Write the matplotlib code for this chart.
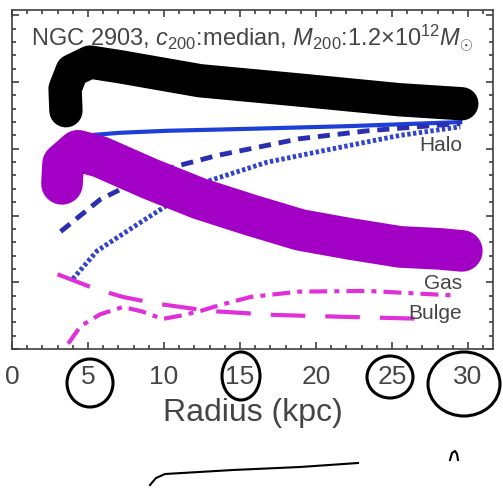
import matplotlib
matplotlib.use("Agg")
import matplotlib.pyplot as plt
from matplotlib.patches import Ellipse
from matplotlib.lines import Line2D
from matplotlib.ticker import MultipleLocator

plt.rcParams["font.family"] = ["Liberation Sans", "DejaVu Sans"]
plt.rcParams["mathtext.fontset"] = "custom"
plt.rcParams["mathtext.rm"] = "Liberation Sans"
plt.rcParams["mathtext.it"] = "Liberation Sans:italic"

TEXT = "#454545"

# rotation curve components (radius in kpc, velocity in km/s)
halo_r = [3.0, 3.8, 4.9, 7.1, 10.2, 15.7, 22.2, 29.5]
halo_v = [150, 155, 160, 162, 163.5, 165, 167, 170]

disk_r = [3.2, 5.8, 9.5, 13.5, 18.9, 23.4, 29.5]
disk_v = [88, 112, 133, 145, 157.5, 163.5, 169]

stars_r = [4.0, 5.6, 8.0, 9.7, 12.4, 16.8, 21.1, 25.5, 29.5]
stars_v = [52.5, 73.5, 91.5, 104, 124, 140, 150, 160, 166.5]

bulge_r = [3.0, 5.5, 7.3, 9.5, 13.0, 17.3, 22.2, 27.5]
bulge_v = [56, 45, 39, 34, 28.5, 25.5, 24, 22.5]

gas_r = [3.7, 4.5, 5.8, 7.3, 8.6, 9.9, 11.1, 12.4, 13.7, 15.7, 18.9, 23.4, 29.3]
gas_v = [4, 17, 26, 31.5, 28, 22.5, 25, 28.5, 33, 39, 43, 43.5, 40]

total_r = [3.3, 4.0, 5.5, 10, 15, 20, 25, 29.5]
total_v = [200, 215, 222, 215, 205, 198, 192, 188]

curve_labels = ["Halo", "Stars", "Gas", "Bulge"]
label_v = [153.5, 85, 50, 27]

title = r"NGC 2903, $c_{200}$:median, $M_{200}$:1.2$\times$10$^{12}$$M_{\odot}$"
xticks = [0, 5, 10, 15, 20, 25, 30]

# hand-drawn marks on top of the picture
black_r = [3.55, 3.49, 3.95, 5.13, 7.1, 12.37, 18.95, 25.5, 29.6]
black_v = [178.5, 195, 208.5, 215, 211.5, 201, 194, 186.75, 183.75]
purple_r = [3.29, 3.36, 4.34, 5.79, 9.08, 12.37, 15.66, 18.95, 22.24, 25.53, 28.16, 29.6]
purple_v = [123.75, 138.75, 148.5, 144, 127.5, 112.5, 100.5, 89.25, 82.5, 76.5, 75, 73.5]

# circles around tick labels, figure pixels: (cx, cy, rx, ry)
circles = [(90, 384, 23, 24), (241, 377, 19, 24), (390, 378, 23, 21), (464, 385, 36, 32)]
under_x = [150, 156, 165, 233, 300, 358]
under_y = [486, 479, 475, 471, 468, 464]
tick_x = [450, 452, 455, 457, 458]
tick_y = [461, 454, 452, 455, 461]

W, H = 503, 489
fig = plt.figure(figsize=(W / 100, H / 100), dpi=100)
ax = fig.add_axes([12 / W, (H - 350) / H, (493 - 12) / W, (350 - 11) / H])

ax.plot(total_r, total_v, color="#d02020", lw=3)
ax.plot(halo_r, halo_v, color="#1e3fd6", lw=3)
ax.plot(disk_r, disk_v, color="#2a2fb0", lw=3.5, ls=(0, (2.5, 1.6)))
ax.plot(stars_r, stars_v, color="#3344cc", lw=3.5, ls=(0, (0.7, 0.5)))
ax.plot(bulge_r, bulge_v, color="#e030d8", lw=3, ls=(0, (8.3, 4.8)))
ax.plot(gas_r, gas_v, color="#e030d8", lw=3, ls=(0, (4.3, 1.7, 1.2, 1.7)))

for lab, v in zip(curve_labels, label_v):
    ax.text(29.6, v, lab, ha="right", va="center", fontsize=15, color=TEXT)

ax.text(0.5, 0.92, title, transform=ax.transAxes, ha="center", va="center",
        fontsize=17, color=TEXT)

ax.plot(black_r, black_v, color="black", lw=24, solid_capstyle="round",
        solid_joinstyle="round", zorder=10)
ax.plot(purple_r, purple_v, color="#a300c6", lw=30, solid_capstyle="round",
        solid_joinstyle="round", zorder=10)

ax.set_xlim(0, 31.65)
ax.set_ylim(0, 254)
ax.set_xticks(xticks)
ax.xaxis.set_minor_locator(MultipleLocator(1))
ax.yaxis.set_major_locator(MultipleLocator(50))
ax.yaxis.set_minor_locator(MultipleLocator(10))
ax.tick_params(which="both", direction="in", top=True, right=True, colors="#404040",
               labelleft=False, labelsize=19, labelcolor=TEXT, width=1.2)
ax.tick_params(which="major", length=5, pad=11)
ax.tick_params(which="minor", length=3)
for s in ax.spines.values():
    s.set_color("#404040")
    s.set_linewidth(1.2)
ax.set_xlabel("Radius (kpc)", fontsize=23, color=TEXT, labelpad=6)

for cx, cy, rx, ry in circles:
    fig.add_artist(Ellipse((cx / W, 1 - cy / H), 2 * rx / W, 2 * ry / H,
                           transform=fig.transFigure, fill=False, ec="black", lw=2.2))
fig.add_artist(Line2D([x / W for x in under_x], [1 - y / H for y in under_y],
                      transform=fig.transFigure, color="black", lw=1.5))
fig.add_artist(Line2D([x / W for x in tick_x], [1 - y / H for y in tick_y],
                      transform=fig.transFigure, color="black", lw=1.5))

fig.savefig("out.png", dpi=100)
